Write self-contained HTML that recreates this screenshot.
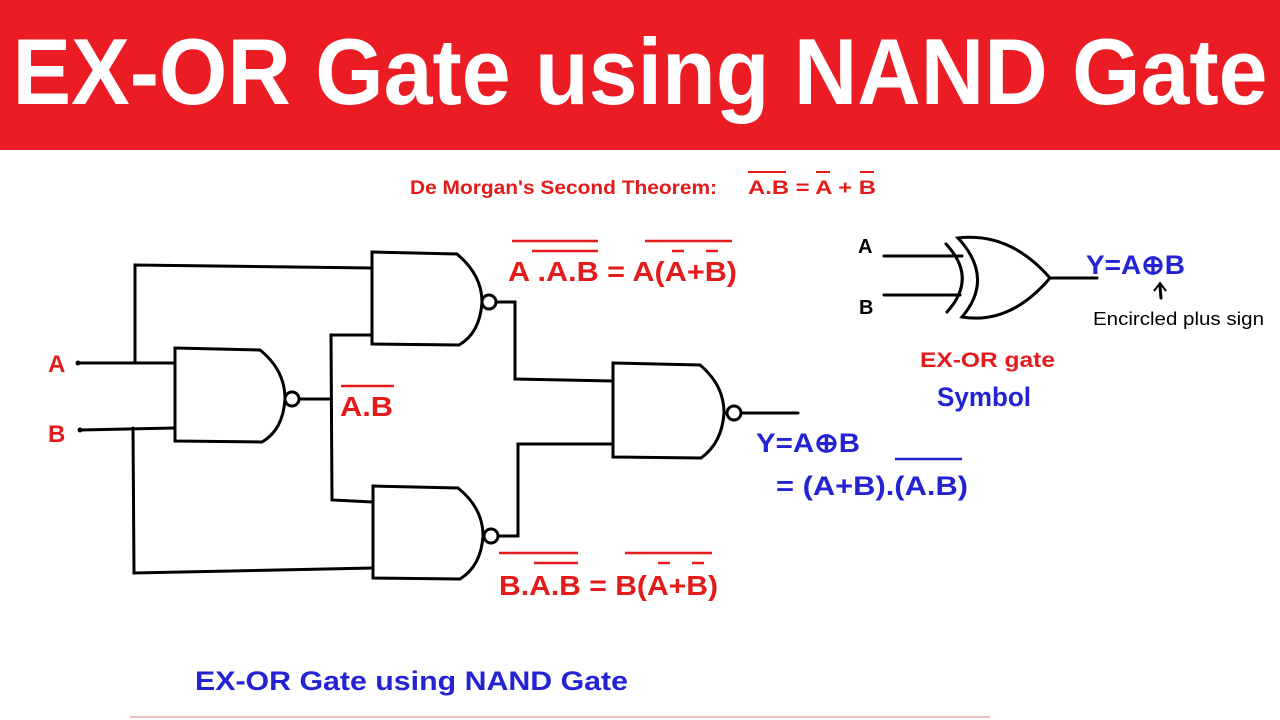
<!DOCTYPE html>
<html><head><style>body{margin:0;background:#fff}svg{display:block}</style></head><body>
<svg width="1280" height="720" xmlns="http://www.w3.org/2000/svg" font-family="Liberation Sans, sans-serif">
<rect x="0" y="0" width="1280" height="150" fill="#ec1c24"/>
<text x="640" y="104" fill="#fff" font-size="94" font-weight="bold" text-anchor="middle" textLength="1255" lengthAdjust="spacingAndGlyphs">EX-OR Gate using NAND Gate</text>
<line x1="130" y1="717" x2="990" y2="717" stroke="#f0c0c0" stroke-width="2"/>
<g fill="#e31b1b" font-size="19" font-weight="bold">
<text x="410" y="194" textLength="307" lengthAdjust="spacingAndGlyphs">De Morgan's Second Theorem:</text>
<text x="748" y="194" textLength="128" lengthAdjust="spacingAndGlyphs">A.B = A + B</text>
</g>
<g stroke="#e31b1b" stroke-width="2"><line x1="748" y1="172" x2="786" y2="172"/><line x1="816" y1="172" x2="830" y2="172"/><line x1="860" y1="172" x2="874" y2="172"/></g>
<g stroke="#000" stroke-width="3" fill="none" stroke-linecap="round">
<path d="M175,348 L260,350 Q285,370 285,399 Q283,430 262,442 L175,441 Z"/>
<circle cx="292" cy="399" r="7"/>
<line x1="299" y1="399" x2="330" y2="399"/>
<path d="M372,252 L457,254 Q482,275 482,302 Q480,333 459,345 L372,344 Z"/>
<circle cx="489" cy="302" r="7"/>
<path d="M373,486 L458,488 Q483,508 483,536 Q481,566 460,579 L373,578 Z"/>
<circle cx="491" cy="536" r="7"/>
<path d="M613,363 L700,365 Q724,385 724,413 Q722,443 701,458 L613,457 Z"/>
<circle cx="734" cy="413" r="7"/>
<line x1="741" y1="413" x2="798" y2="413"/>
<polyline points="78,363 175,363"/>
<polyline points="135,363 135,265 372,268"/>
<polyline points="80,430 175,428"/>
<polyline points="133,428 134,573 373,568"/>
<polyline points="372,335 331,335 332,500 373,502"/>
<polyline points="496,302 515,302 515,379 613,381"/>
<polyline points="498,536 518,536 518,444 613,444"/>
<path d="M958,238 Q1010,232 1050,278 Q1010,325 962,317 Q995,278 958,238 Z"/>
<path d="M946,244 Q978,278 947,312"/>
<line x1="884" y1="256" x2="962" y2="256"/>
<line x1="884" y1="295" x2="960" y2="295"/>
<line x1="1050" y1="278" x2="1097" y2="278"/>
<line x1="1161" y1="298" x2="1160" y2="286"/>
</g>
<g fill="#000"><circle cx="78" cy="363" r="2.5"/><circle cx="80" cy="430" r="2.5"/></g>
<path d="M1154,291 L1160,283 L1166,291" stroke="#000" stroke-width="2" fill="none"/>
<g fill="#e31b1b" font-size="28" font-weight="bold">
<text x="48" y="372" font-size="24">A</text><text x="48" y="442" font-size="24">B</text>
<text x="340" y="416" textLength="53" lengthAdjust="spacingAndGlyphs">A.B</text>
<text x="508" y="281" textLength="229" lengthAdjust="spacingAndGlyphs">A .A.B = A(A+B)</text>
<text x="499" y="595" textLength="219" lengthAdjust="spacingAndGlyphs">B.A.B = B(A+B)</text>
<text x="920" y="367" font-size="21" textLength="135" lengthAdjust="spacingAndGlyphs">EX-OR gate</text>
</g>
<g stroke="#e31b1b" stroke-width="2.5">
<line x1="341" y1="386" x2="394" y2="386"/>
<line x1="512" y1="241" x2="598" y2="241"/><line x1="532" y1="251" x2="598" y2="251"/>
<line x1="645" y1="241" x2="732" y2="241"/><line x1="672" y1="251" x2="684" y2="251"/><line x1="706" y1="251" x2="718" y2="251"/>
<line x1="499" y1="553" x2="578" y2="553"/><line x1="534" y1="563" x2="578" y2="563"/>
<line x1="625" y1="553" x2="712" y2="553"/><line x1="658" y1="563" x2="670" y2="563"/><line x1="692" y1="563" x2="704" y2="563"/>
</g>
<g fill="#000" font-size="20" font-weight="bold">
<text x="858" y="253">A</text><text x="859" y="314">B</text>
</g>
<text x="1093" y="325" font-size="18" fill="#000" textLength="171" lengthAdjust="spacingAndGlyphs">Encircled plus sign</text>
<g fill="#2323d4" font-weight="bold" font-size="27">
<text x="1086" y="274" textLength="99" lengthAdjust="spacingAndGlyphs">Y=A⊕B</text>
<text x="937" y="406" textLength="94" lengthAdjust="spacingAndGlyphs">Symbol</text>
<text x="756" y="452" textLength="104" lengthAdjust="spacingAndGlyphs">Y=A⊕B</text>
<text x="776" y="495" textLength="192" lengthAdjust="spacingAndGlyphs">= (A+B).(A.B)</text>
<text x="195" y="690" textLength="433" lengthAdjust="spacingAndGlyphs">EX-OR Gate using NAND Gate</text>
</g>
<line x1="895" y1="459" x2="962" y2="459" stroke="#2323d4" stroke-width="2.5"/>
</svg>
</body></html>
